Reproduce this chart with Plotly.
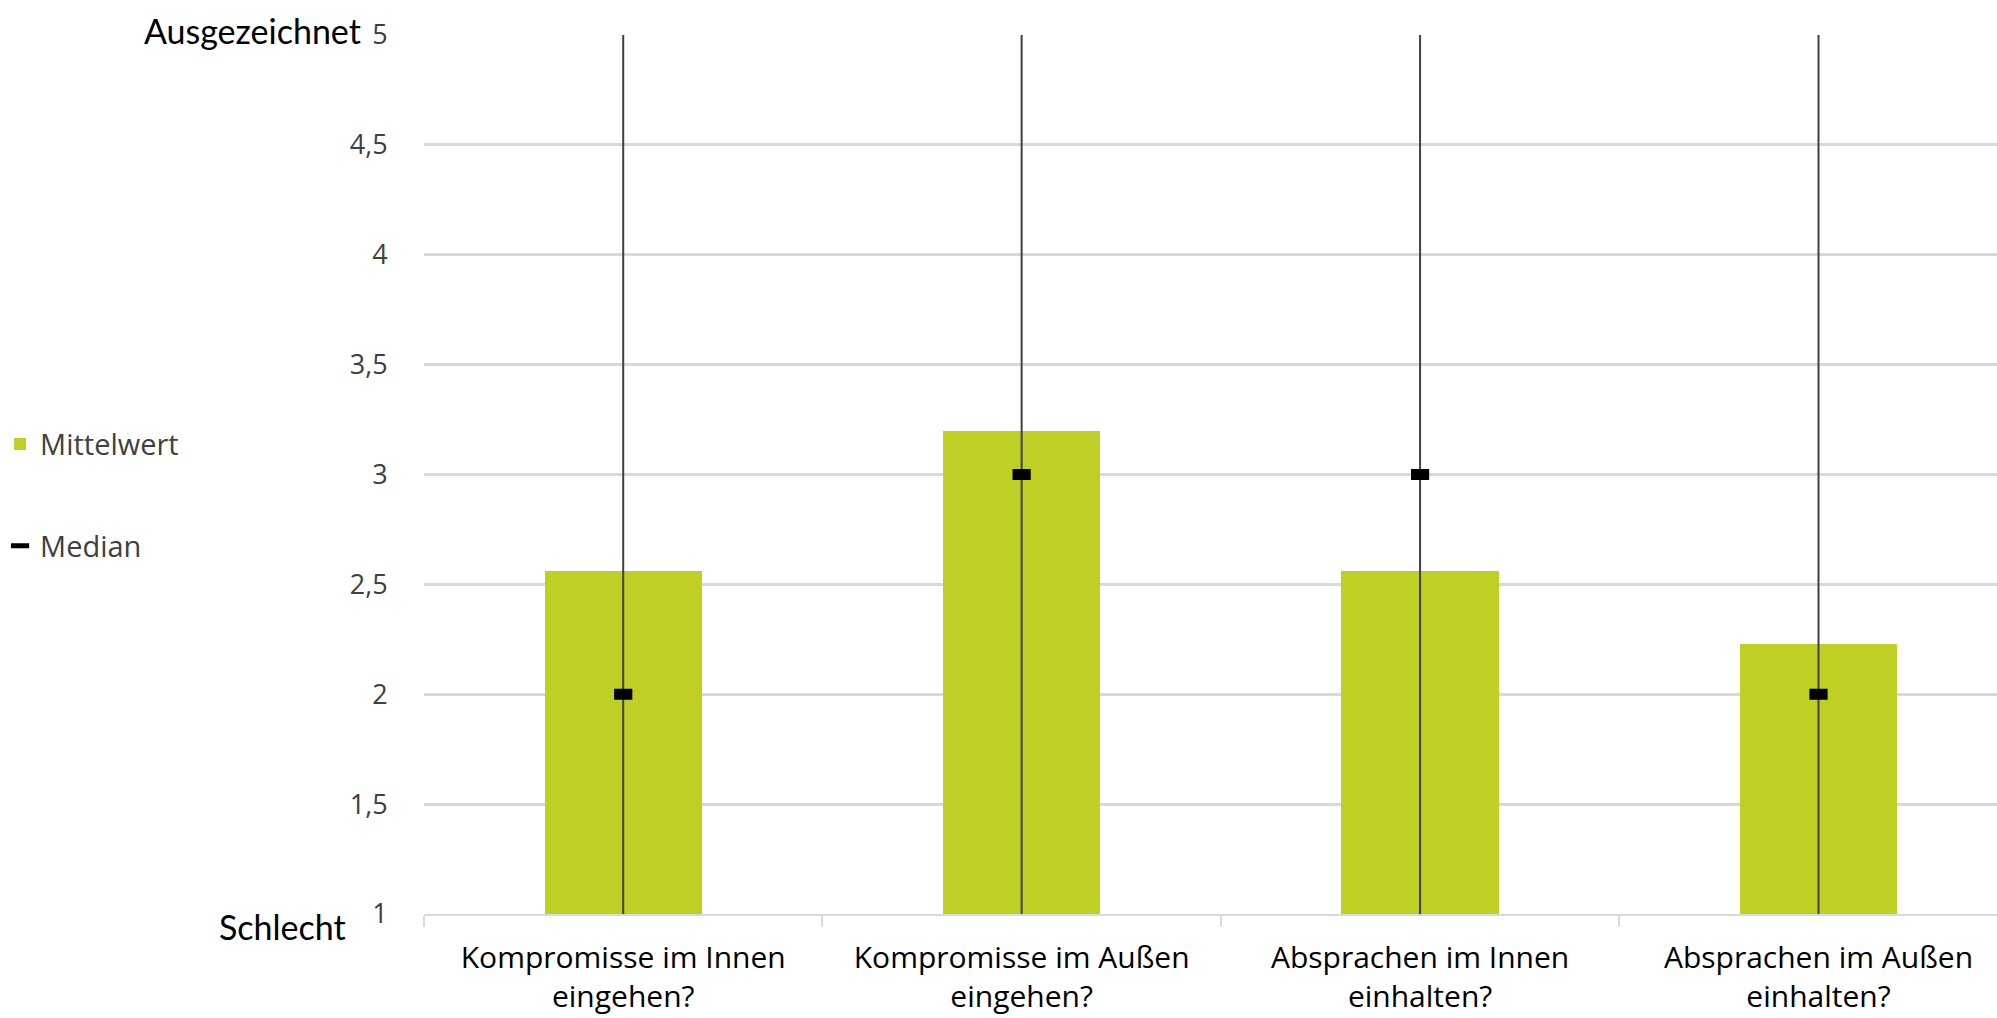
import plotly.graph_objects as go

# Survey items (x categories)
categories = [
    "Kompromisse im Innen<br>eingehen?",
    "Kompromisse im Außen<br>eingehen?",
    "Absprachen im Innen<br>einhalten?",
    "Absprachen im Außen<br>einhalten?",
]

# Rating statistics per item (scale 1 = Schlecht ... 5 = Ausgezeichnet)
mittelwert = [2.56, 3.2, 2.56, 2.23]
median = [2, 3, 3, 2]
minimum = [1, 1, 1, 1]
maximum = [5, 5, 5, 5]

# Y-axis ticks with German decimal comma
y_ticks = [1, 1.5, 2, 2.5, 3, 3.5, 4, 4.5, 5]
y_tick_labels = ["1", "1,5", "2", "2,5", "3", "3,5", "4", "4,5", "5"]

BAR_COLOR = "#BFCF26"
GRID_COLOR = "#D9D9D9"
TEXT_GRAY = "#404040"

fig = go.Figure()

fig.add_trace(go.Bar(
    x=categories,
    y=mittelwert,
    base=0,
    width=0.395,
    marker=dict(color=BAR_COLOR, line=dict(width=0)),
    name="Mittelwert",
    legendgroup="a",
))

# Median marker with the min-max range as a whisker
fig.add_trace(go.Scatter(
    x=categories,
    y=median,
    mode="markers",
    marker=dict(symbol="line-ew-open", size=13, color="#000000",
                line=dict(color="#000000", width=11)),
    error_y=dict(
        type="data",
        symmetric=False,
        array=[mx - m for mx, m in zip(maximum, median)],
        arrayminus=[m - mn for m, mn in zip(median, minimum)],
        width=0,
        thickness=2,
        color=TEXT_GRAY,
    ),
    cliponaxis=False,
    name="Median",
    legendgroup="b",
))

fig.update_layout(
    width=1997,
    height=1018,
    margin=dict(l=424, r=0, t=35, b=104, autoexpand=False),
    plot_bgcolor="white",
    paper_bgcolor="white",
    font=dict(family="Open Sans", size=26, color=TEXT_GRAY),
    bargap=0,
    showlegend=True,
    legend=dict(
        x=-0.2695,
        xanchor="left",
        y=0.5635,
        yanchor="top",
        traceorder="grouped",
        tracegroupgap=61,
        font=dict(family="Open Sans", size=29, color=TEXT_GRAY),
        bgcolor="rgba(0,0,0,0)",
        itemsizing="trace",
    ),
    xaxis=dict(
        type="category",
        range=[-0.5, 3.448],
        showgrid=False,
        showline=True,
        linecolor=GRID_COLOR,
        linewidth=2,
        ticks="outside",
        tickson="boundaries",
        ticklen=11,
        tickwidth=2,
        tickcolor=GRID_COLOR,
        ticklabelstandoff=16,
        tickfont=dict(family="Open Sans", size=30, color="#000000"),
        fixedrange=True,
    ),
    yaxis=dict(
        range=[1, 5],
        tickvals=y_ticks,
        ticktext=y_tick_labels,
        showgrid=True,
        gridcolor=GRID_COLOR,
        gridwidth=3,
        zeroline=False,
        showline=False,
        ticks="outside",
        ticklen=30,
        tickcolor="rgba(0,0,0,0)",
        tickfont=dict(family="Open Sans", size=27, color=TEXT_GRAY),
        fixedrange=True,
    ),
)

# Scale end labels beside the y axis
fig.add_annotation(
    text="Ausgezeichnet", xref="paper", yref="y",
    x=-0.0388, y=5, xanchor="right", yanchor="middle",
    yshift=5, showarrow=False,
    font=dict(family="Lato", size=34, color="#000000"),
)
fig.add_annotation(
    text="Schlecht", xref="paper", yref="y",
    x=-0.0483, y=1, xanchor="right", yanchor="middle",
    yshift=-12, showarrow=False,
    font=dict(family="Lato", size=34, color="#000000"),
)

fig.write_html("out.html")
